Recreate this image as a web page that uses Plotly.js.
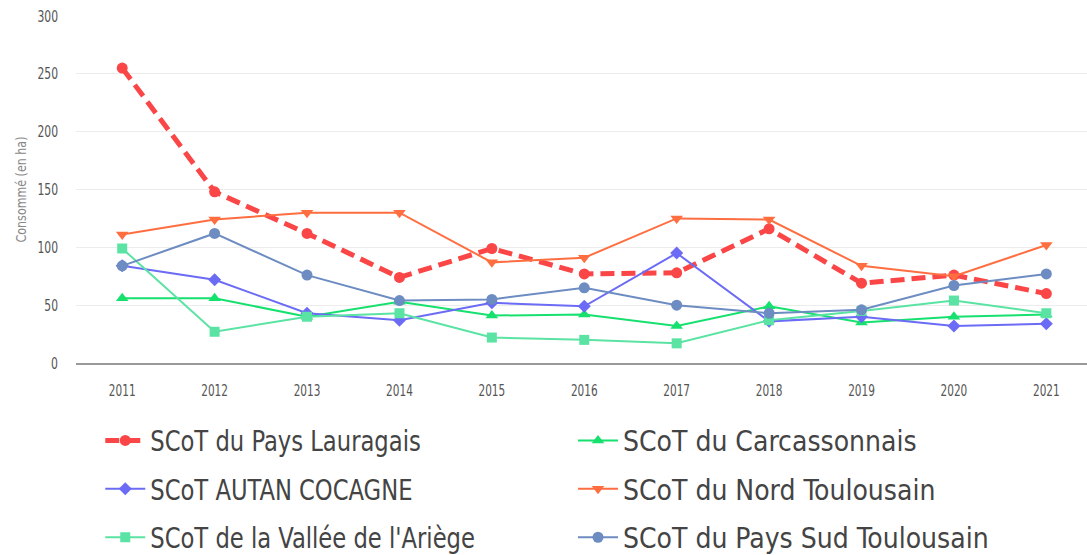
<!DOCTYPE html>
<html>
<head>
<meta charset="utf-8">
<script src="https://cdn.plot.ly/plotly-3.0.1.min.js"></script>
<style>
html,body{margin:0;padding:0;overflow:hidden;background:#fff;}
#chart{width:1087px;height:555px;}
</style>
</head>
<body>
<div id="chart"></div>
<script>
const years = ['2011','2012','2013','2014','2015','2016','2017','2018','2019','2020','2021'];

const lauragais     = [255, 148, 112, 74, 99, 77, 78, 116, 69, 76, 60];
const carcassonnais = [56, 56, 40, 53, 41, 42, 32, 49, 35, 40, 42];
const autanCocagne  = [84, 72, 43, 37, 52, 49, 95, 36, 40, 32, 34];
const nordToulousain= [111, 124, 130, 130, 87, 91, 125, 124, 84, 75, 102];
const valleeAriege  = [99, 27, 40, 43, 22, 20, 17, 37, 45, 54, 43];
const sudToulousain = [84, 112, 76, 54, 55, 65, 50, 43, 46, 67, 77];

const names = ['SCoT du Pays Lauragais','SCoT du Carcassonnais','SCoT AUTAN COCAGNE',
               'SCoT du Nord Toulousain',"SCoT de la Vallée de l'Ariège",'SCoT du Pays Sud Toulousain'];

const font = 'DejaVu Sans Condensed, DejaVu Sans, sans-serif';

function tr(i, y, color, symbol, size, width, dash, leg) {
  return {
    type: 'scatter', mode: 'lines+markers', name: names[i], x: years, y: y,
    legend: leg, legendgroup: 'g' + i,
    line: {color: color, width: width, dash: dash || 'solid'},
    marker: {color: color, symbol: symbol, size: size},
    hoverinfo: 'x+y+name'
  };
}

const data = [
  tr(0, lauragais, '#fa4646', 'circle', 11, 5, '14px,7px', 'legend'),
  tr(1, carcassonnais, '#16e06e', 'triangle-up', 11, 2, null, 'legend2'),
  tr(2, autanCocagne, '#6b6bf5', 'diamond', 10, 2, null, 'legend'),
  tr(3, nordToulousain, '#ff6e40', 'triangle-down', 11, 2, null, 'legend2'),
  tr(4, valleeAriege, '#5ae3a3', 'square', 10, 2, null, 'legend'),
  tr(5, sudToulousain, '#6c8cc2', 'circle', 11, 2, null, 'legend2')
];

const legFont = {family: font, size: 28, color: '#444'};
const legCommon = {
  orientation: 'v', xanchor: 'left', yanchor: 'top', y: -0.152,
  tracegroupgap: 9, itemwidth: 40,
  font: legFont, bgcolor: 'rgba(0,0,0,0)'
};

const layout = {
  width: 1087, height: 555,
  margin: {l: 76, r: 0, t: 16, b: 192, autoexpand: false},
  paper_bgcolor: '#fff', plot_bgcolor: '#fff',
  showlegend: true,
  xaxis: {
    type: 'category', range: [-0.5, 10.44],
    showgrid: false, zeroline: false,
    showline: true, linecolor: '#999', linewidth: 2,
    ticks: '', ticklabelstandoff: 12,
    tickfont: {family: font, size: 16, color: '#555'}
  },
  yaxis: {
    range: [0, 300], dtick: 50,
    showgrid: true, gridcolor: '#ececec', gridwidth: 1,
    zeroline: false, showline: false,
    ticks: '', ticklabelstandoff: 17,
    tickfont: {family: font, size: 16, color: '#555'},
    title: {text: 'Consommé (en ha)', font: {family: font, size: 14, color: '#888'}, standoff: 0}
  },
  legend: Object.assign({x: 0.024}, legCommon),
  legend2: Object.assign({x: 0.4916}, legCommon)
};

function squeezeEl(t, f) {
  const w = t.getComputedTextLength();
  if (w > 0) {
    t.setAttribute('textLength', (w * f).toFixed(1));
    t.setAttribute('lengthAdjust', 'spacingAndGlyphs');
  }
}
function squeeze(sel, f) {
  document.querySelectorAll(sel).forEach(function (t) { squeezeEl(t, f); });
}

const rightColumn = data.filter(function (d) { return d.legend === 'legend2'; }).map(function (d) { return d.name; });

Plotly.newPlot('chart', data, layout, {displayModeBar: false, staticPlot: true}).then(function () {
  squeeze('#chart .xtick text', 0.73);
  squeeze('#chart .ytick text', 0.75);
  document.querySelectorAll('#chart .legendtext').forEach(function (t) {
    squeezeEl(t, rightColumn.indexOf(t.textContent) >= 0 ? 0.83 : 0.9);
  });
  squeeze('#chart .g-ytitle text', 0.88);
});
</script>
</body>
</html>
